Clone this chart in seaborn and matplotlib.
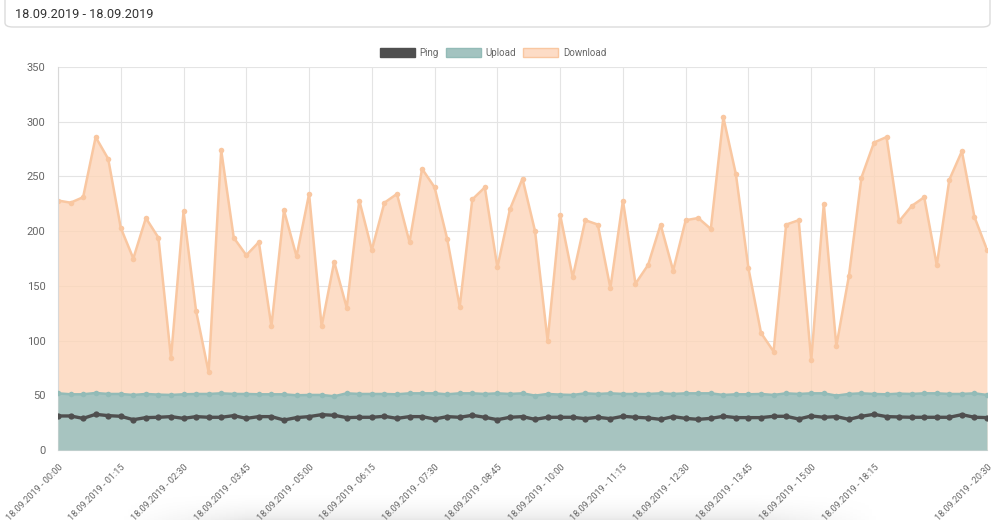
import matplotlib
matplotlib.use('Agg')
import matplotlib.pyplot as plt
from matplotlib.patches import Patch, FancyBboxPatch
import numpy as np
import pandas as pd
import seaborn as sns

# time labels (15 min steps, with a gap between 15:00 and 18:15)
times = ['%02d:%02d' % divmod(15 * i, 60) for i in range(61)]
times += ['15:15', '15:30', '17:45', '18:00']
times += ['%02d:%02d' % divmod(18 * 60 + 15 + 15 * i, 60) for i in range(10)]
labels = ['18.09.2019 - ' + t for t in times]

download = [228, 226, 231, 286, 266, 203, 175, 212, 194, 84,
            218, 127, 71, 274, 194, 178, 190, 113, 219, 177,
            234, 113, 172, 130, 228, 183, 226, 234, 190, 257,
            240, 193, 131, 229, 240, 167, 220, 248, 200, 100,
            215, 158, 210, 206, 148, 228, 152, 169, 206, 164,
            210, 212, 202, 304, 252, 166, 107, 90, 206, 210,
            82, 225, 95, 159, 249, 281, 286, 209, 223, 231,
            169, 247, 273, 213, 183]
upload = [51.8, 50.9, 50.9, 52.1, 51.2, 51.2, 50.3, 51.2, 50.6, 50.3,
          50.9, 51.2, 51.2, 51.8, 51.2, 51.2, 50.9, 50.9, 50.9, 50.0,
          50.3, 50.3, 49.1, 51.8, 51.2, 51.2, 51.2, 50.9, 51.8, 51.8,
          51.8, 50.9, 51.8, 51.8, 51.2, 51.8, 51.2, 51.8, 49.7, 51.2,
          50.6, 50.3, 51.8, 51.2, 51.8, 51.2, 51.2, 51.2, 51.8, 51.2,
          51.8, 51.8, 51.8, 50.3, 50.9, 50.9, 51.2, 50.3, 51.8, 51.2,
          51.8, 51.8, 49.7, 51.2, 51.8, 51.2, 50.9, 51.5, 51.2, 51.8,
          51.8, 51.2, 51.2, 51.8, 50.3]
ping = [31.1, 31.1, 28.9, 32.6, 31.4, 30.8, 27.7, 29.6, 29.9, 30.5,
        28.9, 30.5, 29.9, 29.9, 31.4, 28.9, 30.5, 30.5, 27.4, 29.6,
        30.5, 32.3, 31.7, 29.6, 29.9, 29.9, 30.8, 28.9, 30.5, 30.5,
        28.3, 30.5, 29.9, 31.7, 29.9, 27.7, 29.9, 30.5, 28.0, 29.9,
        29.9, 29.9, 28.6, 29.9, 28.6, 30.8, 29.9, 29.3, 28.0, 30.5,
        28.9, 28.0, 28.9, 30.8, 29.6, 29.6, 29.6, 30.8, 30.8, 28.3,
        31.1, 29.9, 30.5, 28.0, 30.8, 32.6, 30.5, 30.2, 29.9, 29.9,
        29.9, 29.9, 32.3, 29.9, 29.6]

df = pd.DataFrame({'label': labels, 'Download': download, 'Upload': upload, 'Ping': ping})
df['idx'] = np.arange(len(df))

sns.set_style('white')
plt.rcParams['font.family'] = ['Roboto', 'DejaVu Sans']

fig = plt.figure(figsize=(9.98, 5.2), dpi=100)

# faint shadow along the bottom edge
sh = fig.add_axes([120 / 998, 0, 760 / 998, 30 / 520], zorder=0)
grad = np.linspace(0, 1, 30).reshape(-1, 1) ** 2
edge = np.minimum(1, np.minimum(np.linspace(0, 1, 200), np.linspace(1, 0, 200)) * 6)
sh.imshow(grad * edge[None, :], cmap='Greys', vmin=0, vmax=6, aspect='auto', origin='upper')
sh.axis('off')

ax = fig.add_axes([58 / 998, 70 / 520, 929 / 998, 383 / 520], zorder=1)
ax.patch.set_alpha(0)

dl_fill, dl_line = '#fdd5b9', '#f9c7a1'
up_fill, up_line = '#a3c3c0', '#93bbb7'
ping_col = '#4f4f4f'

ax.fill_between(df['idx'], df['Download'], color=dl_fill, alpha=0.8, lw=0, zorder=1)
sns.lineplot(data=df, x='idx', y='Download', ax=ax, color=dl_line, lw=1.8,
             marker='o', markersize=4, markeredgewidth=0, zorder=2)
ax.fill_between(df['idx'], df['Upload'], color=up_fill, alpha=0.95, lw=0, zorder=3)
sns.lineplot(data=df, x='idx', y='Upload', ax=ax, color=up_line, lw=1.8,
             marker='o', markersize=4, markeredgewidth=0, zorder=4)
sns.lineplot(data=df, x='idx', y='Ping', ax=ax, color=ping_col, lw=2.4,
             marker='o', markersize=4.5, markeredgewidth=0, zorder=5)

ax.set_xlim(0, len(df) - 1)
ax.set_ylim(0, 350)
ax.set_yticks(range(0, 351, 50))
tick_pos = list(range(0, 66, 5)) + [len(df) - 1]
ax.set_xticks(tick_pos)
ax.set_xticklabels([labels[i] for i in tick_pos], rotation=45, ha='right',
                   rotation_mode='anchor', fontsize=6.6, color='#666666')
ax.tick_params(axis='y', labelsize=8, labelcolor='#666666')
ax.tick_params(axis='both', length=8, color='#e5e5e5', width=1, pad=1)
ax.set_xlabel('')
ax.set_ylabel('')
ax.set_axisbelow(True)
ax.grid(True, color='#e4e4e4', lw=0.8, zorder=0)
for s in ax.spines.values():
    s.set_visible(False)
ax.spines['left'].set_visible(True)
ax.spines['left'].set_color('#d8d8d8')
ax.spines['bottom'].set_visible(True)
ax.spines['bottom'].set_color('#d8d8d8')

handles = [Patch(facecolor=ping_col, edgecolor=ping_col),
           Patch(facecolor=up_fill, edgecolor=up_line),
           Patch(facecolor='#fddcc6', edgecolor=dl_line)]
fig.legend(handles, ['Ping', 'Upload', 'Download'], loc='center',
           bbox_to_anchor=(0.494, 1 - 53 / 520), ncol=3, frameon=False,
           fontsize=7, handlelength=3.6, handleheight=1.1, columnspacing=0.7,
           handletextpad=0.5, labelcolor='#666666')

# date range header box
box = FancyBboxPatch((5 / 998, 1 - 27 / 520), 985 / 998, 40 / 520,
                     boxstyle='round,pad=0,rounding_size=0.008',
                     transform=fig.transFigure, facecolor='white',
                     edgecolor='#dcdcdc', lw=1)
fig.patches.append(box)
fig.text(15 / 998, 1 - 14 / 520, '18.09.2019 - 18.09.2019', fontsize=9.2,
         color='#333333', va='center', ha='left')

fig.savefig('out.png', dpi=100)
